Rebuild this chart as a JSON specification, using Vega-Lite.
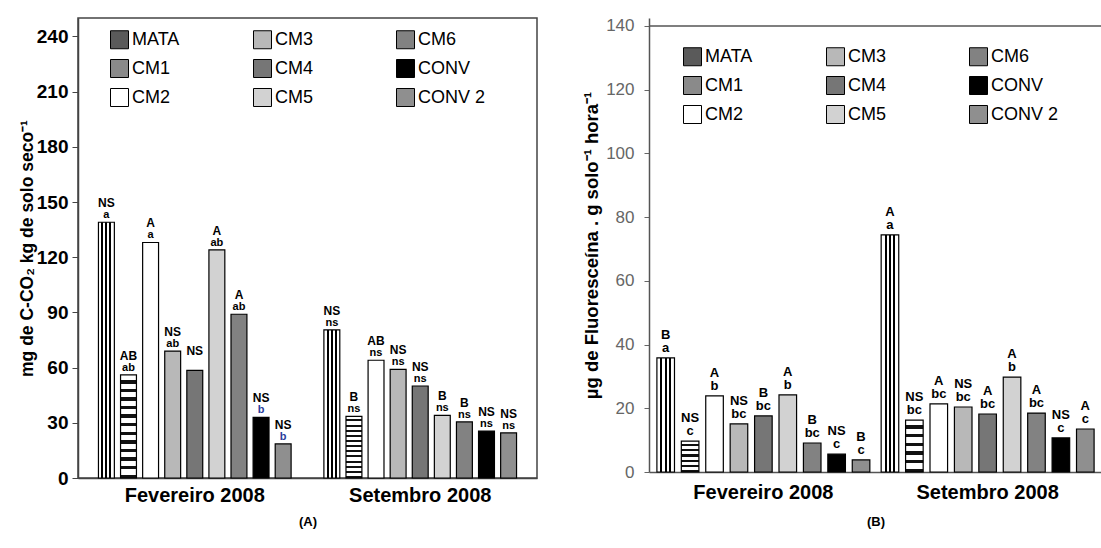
{
  "$schema": "https://vega.github.io/schema/vega-lite/v6.json",
  "padding": {"left": 17, "top": 16, "right": 0, "bottom": 0},
  "background": "#ffffff",
  "config": {
    "font": "Liberation Sans",
    "view": {"stroke": "#444444", "strokeWidth": 1.5},
    "concat": {"spacing": 44}
  },
  "datasets": {
    "d": [
      {"painel": "A", "periodo": "Fevereiro 2008", "trat": "MATA", "valor": 139, "sup": "NS", "inf": "a"},
      {"painel": "A", "periodo": "Fevereiro 2008", "trat": "CM1", "valor": 56, "sup": "AB", "inf": "ab"},
      {"painel": "A", "periodo": "Fevereiro 2008", "trat": "CM2", "valor": 128, "sup": "A", "inf": "a"},
      {"painel": "A", "periodo": "Fevereiro 2008", "trat": "CM3", "valor": 69, "sup": "NS", "inf": "ab"},
      {"painel": "A", "periodo": "Fevereiro 2008", "trat": "CM4", "valor": 58.5, "sup": "NS", "inf": ""},
      {"painel": "A", "periodo": "Fevereiro 2008", "trat": "CM5", "valor": 124, "sup": "A", "inf": "ab"},
      {"painel": "A", "periodo": "Fevereiro 2008", "trat": "CM6", "valor": 89, "sup": "A", "inf": "ab"},
      {"painel": "A", "periodo": "Fevereiro 2008", "trat": "CONV", "valor": 33, "sup": "NS", "inf": "b"},
      {"painel": "A", "periodo": "Fevereiro 2008", "trat": "CONV 2", "valor": 18.5, "sup": "NS", "inf": "b"},
      {"painel": "A", "periodo": "Setembro 2008", "trat": "MATA", "valor": 80.5, "sup": "NS", "inf": "ns"},
      {"painel": "A", "periodo": "Setembro 2008", "trat": "CM1", "valor": 33.5, "sup": "B", "inf": "ns"},
      {"painel": "A", "periodo": "Setembro 2008", "trat": "CM2", "valor": 64, "sup": "AB", "inf": "ns"},
      {"painel": "A", "periodo": "Setembro 2008", "trat": "CM3", "valor": 59, "sup": "NS", "inf": "ns"},
      {"painel": "A", "periodo": "Setembro 2008", "trat": "CM4", "valor": 50, "sup": "NS", "inf": "ns"},
      {"painel": "A", "periodo": "Setembro 2008", "trat": "CM5", "valor": 34, "sup": "B", "inf": "ns"},
      {"painel": "A", "periodo": "Setembro 2008", "trat": "CM6", "valor": 30.5, "sup": "B", "inf": "ns"},
      {"painel": "A", "periodo": "Setembro 2008", "trat": "CONV", "valor": 25.5, "sup": "NS", "inf": "ns"},
      {"painel": "A", "periodo": "Setembro 2008", "trat": "CONV 2", "valor": 24.5, "sup": "NS", "inf": "ns"},
      {"painel": "B", "periodo": "Fevereiro 2008", "trat": "MATA", "valor": 35.8, "sup": "B", "inf": "a"},
      {"painel": "B", "periodo": "Fevereiro 2008", "trat": "CM1", "valor": 9.7, "sup": "NS", "inf": "c"},
      {"painel": "B", "periodo": "Fevereiro 2008", "trat": "CM2", "valor": 23.9, "sup": "A", "inf": "b"},
      {"painel": "B", "periodo": "Fevereiro 2008", "trat": "CM3", "valor": 15.1, "sup": "NS", "inf": "bc"},
      {"painel": "B", "periodo": "Fevereiro 2008", "trat": "CM4", "valor": 17.6, "sup": "B", "inf": "bc"},
      {"painel": "B", "periodo": "Fevereiro 2008", "trat": "CM5", "valor": 24.2, "sup": "A", "inf": "b"},
      {"painel": "B", "periodo": "Fevereiro 2008", "trat": "CM6", "valor": 9.1, "sup": "B", "inf": "bc"},
      {"painel": "B", "periodo": "Fevereiro 2008", "trat": "CONV", "valor": 5.6, "sup": "NS", "inf": "c"},
      {"painel": "B", "periodo": "Fevereiro 2008", "trat": "CONV 2", "valor": 3.8, "sup": "B", "inf": "c"},
      {"painel": "B", "periodo": "Setembro 2008", "trat": "MATA", "valor": 74.4, "sup": "A", "inf": "a"},
      {"painel": "B", "periodo": "Setembro 2008", "trat": "CM1", "valor": 16.3, "sup": "NS", "inf": "bc"},
      {"painel": "B", "periodo": "Setembro 2008", "trat": "CM2", "valor": 21.4, "sup": "A", "inf": "bc"},
      {"painel": "B", "periodo": "Setembro 2008", "trat": "CM3", "valor": 20.4, "sup": "NS", "inf": "bc"},
      {"painel": "B", "periodo": "Setembro 2008", "trat": "CM4", "valor": 18.2, "sup": "A", "inf": "bc"},
      {"painel": "B", "periodo": "Setembro 2008", "trat": "CM5", "valor": 29.8, "sup": "A", "inf": "b"},
      {"painel": "B", "periodo": "Setembro 2008", "trat": "CM6", "valor": 18.5, "sup": "A", "inf": "bc"},
      {"painel": "B", "periodo": "Setembro 2008", "trat": "CONV", "valor": 10.7, "sup": "NS", "inf": "c"},
      {"painel": "B", "periodo": "Setembro 2008", "trat": "CONV 2", "valor": 13.5, "sup": "A", "inf": "c"}
    ]
  },
  "data": {"name": "d"},
  "resolve": {
    "scale": {"fill": "independent", "x": "independent", "y": "independent", "xOffset": "independent"},
    "legend": {"fill": "independent"}
  },
  "hconcat": [
    {
      "width": 459,
      "height": 460,
      "transform": [{"filter": "datum.painel === 'A'"}],
      "encoding": {
        "x": {
          "field": "periodo", "type": "nominal", "sort": ["Fevereiro 2008", "Setembro 2008"],
          "scale": {"paddingInner": 0.118, "paddingOuter": 0.077},
          "axis": {"title": "(A)", "labelAngle": 0, "labelFontSize": 20, "labelFontWeight": "bold", "labelColor": "#000000", "ticks": false, "tickSize": 0, "labelPadding": 7, "titleFontSize": 13, "titleFontWeight": "bold", "titleColor": "#000000", "titlePadding": 10, "domainColor": "#444444", "domainWidth": 1.5}
        },
        "xOffset": {
          "field": "trat", "type": "nominal",
          "sort": ["MATA", "CM1", "CM2", "CM3", "CM4", "CM5", "CM6", "CONV", "CONV 2"],
          "scale": {"paddingInner": 0.28, "paddingOuter": 0.14}
        },
        "y": {
          "field": "valor", "type": "quantitative",
          "scale": {"domain": [0, 250], "nice": false},
          "axis": {"values": [0, 30, 60, 90, 120, 150, 180, 210, 240], "title": "mg de C-CO₂ kg de solo seco⁻¹", "grid": false, "labelFontSize": 19, "labelFontWeight": "bold", "labelColor": "#000000", "tickSize": 6, "tickColor": "#444444", "labelPadding": 4, "titleFontSize": 17.5, "titleFontWeight": "bold", "titleColor": "#000000", "titlePadding": 0, "domainColor": "#444444", "domainWidth": 1.5}
        }
      },
      "layer": [
        {
          "mark": {"type": "bar", "stroke": "#000000", "strokeWidth": 1.2},
          "encoding": {
            "fill": {
              "condition": [
                {"test": "datum.trat === 'MATA'", "value": {"gradient": "linear", "x1": 0, "y1": 0, "x2": 1, "y2": 0, "stops": [
                    {"offset": 0, "color": "#ffffff"}, {"offset": 0.19, "color": "#ffffff"}, {"offset": 0.19, "color": "#000000"}, {"offset": 0.31, "color": "#000000"}, {"offset": 0.31, "color": "#ffffff"}, {"offset": 0.44, "color": "#ffffff"}, {"offset": 0.44, "color": "#000000"}, {"offset": 0.56, "color": "#000000"}, {"offset": 0.56, "color": "#ffffff"}, {"offset": 0.69, "color": "#ffffff"}, {"offset": 0.69, "color": "#000000"}, {"offset": 0.81, "color": "#000000"}, {"offset": 0.81, "color": "#ffffff"}, {"offset": 1, "color": "#ffffff"}]}},
                {"test": "datum.trat === 'CM1'", "value": {"gradient": "linear", "x1": 0, "y1": 0, "x2": 0, "y2": 1, "stops": [
                    {"offset": 0, "color": "#ffffff"}, {"offset": 0.05, "color": "#ffffff"}, {"offset": 0.05, "color": "#111111"}, {"offset": 0.0833, "color": "#111111"},
                    {"offset": 0.0833, "color": "#ffffff"}, {"offset": 0.1333, "color": "#ffffff"}, {"offset": 0.1333, "color": "#111111"}, {"offset": 0.1667, "color": "#111111"},
                    {"offset": 0.1667, "color": "#ffffff"}, {"offset": 0.2167, "color": "#ffffff"}, {"offset": 0.2167, "color": "#111111"}, {"offset": 0.25, "color": "#111111"},
                    {"offset": 0.25, "color": "#ffffff"}, {"offset": 0.3, "color": "#ffffff"}, {"offset": 0.3, "color": "#111111"}, {"offset": 0.3333, "color": "#111111"},
                    {"offset": 0.3333, "color": "#ffffff"}, {"offset": 0.3833, "color": "#ffffff"}, {"offset": 0.3833, "color": "#111111"}, {"offset": 0.4167, "color": "#111111"},
                    {"offset": 0.4167, "color": "#ffffff"}, {"offset": 0.4667, "color": "#ffffff"}, {"offset": 0.4667, "color": "#111111"}, {"offset": 0.5, "color": "#111111"},
                    {"offset": 0.5, "color": "#ffffff"}, {"offset": 0.55, "color": "#ffffff"}, {"offset": 0.55, "color": "#111111"}, {"offset": 0.5833, "color": "#111111"},
                    {"offset": 0.5833, "color": "#ffffff"}, {"offset": 0.6333, "color": "#ffffff"}, {"offset": 0.6333, "color": "#111111"}, {"offset": 0.6667, "color": "#111111"},
                    {"offset": 0.6667, "color": "#ffffff"}, {"offset": 0.7167, "color": "#ffffff"}, {"offset": 0.7167, "color": "#111111"}, {"offset": 0.75, "color": "#111111"},
                    {"offset": 0.75, "color": "#ffffff"}, {"offset": 0.8, "color": "#ffffff"}, {"offset": 0.8, "color": "#111111"}, {"offset": 0.8333, "color": "#111111"},
                    {"offset": 0.8333, "color": "#ffffff"}, {"offset": 0.8833, "color": "#ffffff"}, {"offset": 0.8833, "color": "#111111"}, {"offset": 0.9167, "color": "#111111"},
                    {"offset": 0.9167, "color": "#ffffff"}, {"offset": 0.9667, "color": "#ffffff"}, {"offset": 0.9667, "color": "#111111"}, {"offset": 1, "color": "#111111"}]}}
              ],
              "field": "trat", "type": "nominal",
              "scale": {
                "domain": ["MATA", "CM1", "CM2", "CM3", "CM4", "CM5", "CM6", "CONV", "CONV 2"],
                "range": ["#5a5a5a", "#8a8a8a", "#ffffff", "#b8b8b8", "#767676", "#d2d2d2", "#828282", "#000000", "#8f8f8f"]
              },
              "legend": {"orient": "none", "legendX": 32, "legendY": 12, "title": null, "columns": 3, "gridAlign": "all", "columnPadding": 51, "rowPadding": 6, "symbolType": "square", "symbolSize": 324, "symbolStrokeColor": "#000000", "symbolStrokeWidth": 1, "labelFontSize": 18, "labelColor": "#000000", "labelOffset": 3, "labelLimit": 200}
            }
          }
        },
        {
          "mark": {"type": "text", "dy": -15, "fontSize": 12, "fontWeight": "bold", "baseline": "alphabetic", "color": "#000000"},
          "encoding": {"text": {"field": "sup", "type": "nominal"}}
        },
        {
          "mark": {"type": "text", "dy": -4, "fontSize": 11, "fontWeight": "bold", "baseline": "alphabetic"},
          "encoding": {
            "text": {"field": "inf", "type": "nominal"},
            "color": {"condition": {"test": "datum.periodo === 'Fevereiro 2008' && indexof(['CONV', 'CONV 2'], datum.trat) >= 0", "value": "#2a3d9c"}, "value": "#000000"}
          }
        }
      ]
    },
    {
      "width": 453,
      "height": 454,
      "view": {"stroke": null},
      "transform": [{"filter": "datum.painel === 'B'"}],
      "encoding": {
        "y": {
          "field": "valor", "type": "quantitative",
          "scale": {"domain": [0, 142.5], "nice": false},
          "axis": {"values": [0, 20, 40, 60, 80, 100, 120, 140], "title": "µg de Fluoresceína . g solo⁻¹ hora⁻¹", "grid": false, "labelFontSize": 17, "labelColor": "#666666", "tickSize": 5, "tickColor": "#666666", "labelPadding": 10, "titleFontSize": 18.5, "titleFontWeight": "bold", "titleColor": "#000000", "titlePadding": 4, "domainColor": "#555555", "domainWidth": 1.5}
        }
      },
      "layer": [
        {
          "data": {"values": [{"topo": 140}]},
          "mark": {"type": "rule", "color": "#555555", "strokeWidth": 1.5},
          "encoding": {"y": {"field": "topo", "type": "quantitative"}}
        },
        {
          "mark": {"type": "bar", "stroke": "#000000", "strokeWidth": 1.2},
          "encoding": {
            "x": {
              "field": "periodo", "type": "nominal", "sort": ["Fevereiro 2008", "Setembro 2008"],
              "scale": {"paddingInner": 0.02, "paddingOuter": 0.02},
              "axis": {"title": "(B)", "labelAngle": 0, "labelFontSize": 20, "labelFontWeight": "bold", "labelColor": "#000000", "ticks": false, "tickSize": 0, "labelPadding": 10, "titleFontSize": 13, "titleFontWeight": "bold", "titleColor": "#000000", "titlePadding": 13, "domainColor": "#555555", "domainWidth": 1.5}
            },
            "xOffset": {
              "field": "trat", "type": "nominal",
              "sort": ["MATA", "CM1", "CM2", "CM3", "CM4", "CM5", "CM6", "CONV", "CONV 2"],
              "scale": {"paddingInner": 0.28, "paddingOuter": 0.14}
            },
            "fill": {
              "condition": [
                {"test": "datum.trat === 'MATA'", "value": {"gradient": "linear", "x1": 0, "y1": 0, "x2": 1, "y2": 0, "stops": [
                    {"offset": 0, "color": "#ffffff"}, {"offset": 0.19, "color": "#ffffff"}, {"offset": 0.19, "color": "#000000"}, {"offset": 0.31, "color": "#000000"}, {"offset": 0.31, "color": "#ffffff"}, {"offset": 0.44, "color": "#ffffff"}, {"offset": 0.44, "color": "#000000"}, {"offset": 0.56, "color": "#000000"}, {"offset": 0.56, "color": "#ffffff"}, {"offset": 0.69, "color": "#ffffff"}, {"offset": 0.69, "color": "#000000"}, {"offset": 0.81, "color": "#000000"}, {"offset": 0.81, "color": "#ffffff"}, {"offset": 1, "color": "#ffffff"}]}},
                {"test": "datum.trat === 'CM1'", "value": {"gradient": "linear", "x1": 0, "y1": 0, "x2": 0, "y2": 1, "stops": [
                    {"offset": 0, "color": "#ffffff"}, {"offset": 0.1, "color": "#ffffff"}, {"offset": 0.1, "color": "#111111"}, {"offset": 0.1667, "color": "#111111"},
                    {"offset": 0.1667, "color": "#ffffff"}, {"offset": 0.2667, "color": "#ffffff"}, {"offset": 0.2667, "color": "#111111"}, {"offset": 0.3333, "color": "#111111"},
                    {"offset": 0.3333, "color": "#ffffff"}, {"offset": 0.4333, "color": "#ffffff"}, {"offset": 0.4333, "color": "#111111"}, {"offset": 0.5, "color": "#111111"},
                    {"offset": 0.5, "color": "#ffffff"}, {"offset": 0.6, "color": "#ffffff"}, {"offset": 0.6, "color": "#111111"}, {"offset": 0.6667, "color": "#111111"},
                    {"offset": 0.6667, "color": "#ffffff"}, {"offset": 0.7667, "color": "#ffffff"}, {"offset": 0.7667, "color": "#111111"}, {"offset": 0.8333, "color": "#111111"},
                    {"offset": 0.8333, "color": "#ffffff"}, {"offset": 0.9333, "color": "#ffffff"}, {"offset": 0.9333, "color": "#111111"}, {"offset": 1, "color": "#111111"}]}}
              ],
              "field": "trat", "type": "nominal",
              "scale": {
                "domain": ["MATA", "CM1", "CM2", "CM3", "CM4", "CM5", "CM6", "CONV", "CONV 2"],
                "range": ["#5a5a5a", "#8a8a8a", "#ffffff", "#b8b8b8", "#767676", "#d2d2d2", "#828282", "#000000", "#8f8f8f"]
              },
              "legend": {"orient": "none", "legendX": 34, "legendY": 29, "title": null, "columns": 3, "gridAlign": "all", "columnPadding": 51, "rowPadding": 6, "symbolType": "square", "symbolSize": 324, "symbolStrokeColor": "#000000", "symbolStrokeWidth": 1, "labelFontSize": 18, "labelColor": "#000000", "labelOffset": 3, "labelLimit": 200}
            }
          }
        },
        {
          "mark": {"type": "text", "dy": -19, "fontSize": 13, "fontWeight": "bold", "baseline": "alphabetic", "color": "#000000"},
          "encoding": {
            "x": {"field": "periodo", "type": "nominal", "sort": ["Fevereiro 2008", "Setembro 2008"]},
            "xOffset": {"field": "trat", "type": "nominal", "sort": ["MATA", "CM1", "CM2", "CM3", "CM4", "CM5", "CM6", "CONV", "CONV 2"]},
            "text": {"field": "sup", "type": "nominal"}
          }
        },
        {
          "mark": {"type": "text", "dy": -6, "fontSize": 13, "fontWeight": "bold", "baseline": "alphabetic", "color": "#000000"},
          "encoding": {
            "x": {"field": "periodo", "type": "nominal", "sort": ["Fevereiro 2008", "Setembro 2008"]},
            "xOffset": {"field": "trat", "type": "nominal", "sort": ["MATA", "CM1", "CM2", "CM3", "CM4", "CM5", "CM6", "CONV", "CONV 2"]},
            "text": {"field": "inf", "type": "nominal"}
          }
        }
      ]
    }
  ]
}
